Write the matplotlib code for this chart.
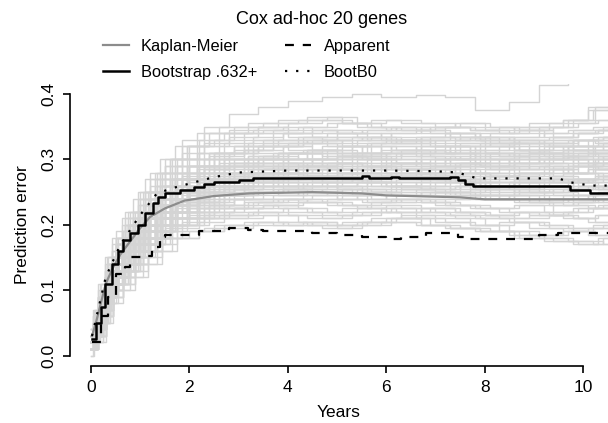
import matplotlib.pyplot as plt
from matplotlib.lines import Line2D

plt.rcParams['font.family'] = ['Liberation Sans', 'DejaVu Sans']

# ---------------- data ----------------
title = 'Cox ad-hoc 20 genes'
xticks = [0, 2, 4, 6, 8, 10]
yticks = [0.0, 0.1, 0.2, 0.3, 0.4]

# step times for the bootstrap curves (light gray), five groups
TA = [0, 0.08, 0.2, 0.32, 0.5, 0.7, 0.95, 1.2, 1.5, 1.85, 2.3, 2.8, 3.4, 4.0, 4.7, 5.3, 5.9, 6.6, 7.2, 7.8, 8.5, 9.1, 9.7, 10.2, 10.5]
TB = [0, 0.12, 0.25, 0.38, 0.55, 0.8, 1.05, 1.35, 1.65, 2.0, 2.5, 3.1, 3.7, 4.3, 5.0, 5.6, 6.2, 6.9, 7.5, 8.1, 8.7, 9.4, 9.9, 10.3, 10.5]
TC = [0, 0.05, 0.15, 0.28, 0.42, 0.62, 0.85, 1.1, 1.4, 1.7, 2.15, 2.6, 3.2, 3.8, 4.4, 5.1, 5.7, 6.3, 7.0, 7.7, 8.3, 8.9, 9.6, 10.1, 10.5]
TD = [0, 0.15, 0.3, 0.45, 0.65, 0.9, 1.15, 1.45, 1.75, 2.2, 2.7, 3.3, 3.9, 4.5, 5.0, 5.5, 6.1, 6.7, 7.3, 7.9, 8.6, 9.2, 9.8, 10.4, 10.5]
TE = [0, 0.06, 0.18, 0.35, 0.5, 0.75, 1.0, 1.3, 1.6, 1.95, 2.4, 2.9, 3.5, 4.2, 4.8, 5.4, 6.0, 6.7, 7.4, 8.0, 8.6, 9.3, 9.8, 10.25, 10.5]

# the single high outlier curve
boot_top = [0.03,0.06,0.10,0.14,0.17,0.20,0.23,0.26,0.29,0.32,0.35,0.37,0.38,0.39,0.395,0.40,0.395,0.398,0.395,0.375,0.388,0.414,0.43,0.43,0.43]

boot_A = [
    [0.02,0.05,0.09,0.13,0.16,0.19,0.22,0.25,0.28,0.30,0.32,0.34,0.35,0.355,0.36,0.355,0.35,0.345,0.35,0.345,0.34,0.35,0.36,0.375,0.375],
    [0.03,0.05,0.08,0.12,0.15,0.18,0.21,0.24,0.26,0.28,0.30,0.31,0.32,0.325,0.33,0.32,0.325,0.33,0.32,0.315,0.32,0.31,0.32,0.33,0.33],
    [0.02,0.04,0.08,0.12,0.14,0.17,0.20,0.22,0.25,0.27,0.29,0.30,0.305,0.31,0.30,0.305,0.31,0.305,0.30,0.295,0.30,0.31,0.30,0.295,0.295],
    [0.01,0.04,0.07,0.11,0.14,0.16,0.19,0.21,0.24,0.26,0.27,0.28,0.29,0.295,0.29,0.285,0.29,0.295,0.29,0.28,0.285,0.29,0.28,0.29,0.29],
    [0.03,0.05,0.08,0.11,0.13,0.16,0.18,0.20,0.22,0.24,0.26,0.27,0.275,0.28,0.275,0.28,0.285,0.28,0.275,0.27,0.275,0.27,0.265,0.27,0.27],
    [0.02,0.04,0.07,0.10,0.13,0.15,0.17,0.20,0.22,0.23,0.25,0.26,0.265,0.26,0.265,0.27,0.265,0.26,0.265,0.255,0.26,0.25,0.255,0.26,0.26],
    [0.02,0.04,0.06,0.10,0.12,0.14,0.17,0.19,0.21,0.22,0.235,0.245,0.25,0.255,0.25,0.245,0.25,0.255,0.25,0.245,0.24,0.235,0.24,0.245,0.245],
    [0.01,0.03,0.06,0.09,0.12,0.14,0.16,0.18,0.20,0.21,0.225,0.23,0.235,0.24,0.235,0.23,0.235,0.24,0.23,0.225,0.22,0.215,0.22,0.225,0.225],
    [0.01,0.03,0.05,0.09,0.11,0.13,0.15,0.17,0.19,0.20,0.21,0.215,0.22,0.215,0.21,0.215,0.22,0.21,0.205,0.20,0.19,0.185,0.19,0.195,0.195],
    [0.02,0.04,0.07,0.11,0.13,0.16,0.19,0.21,0.23,0.25,0.265,0.275,0.28,0.29,0.295,0.30,0.295,0.29,0.30,0.31,0.305,0.30,0.31,0.315,0.315],
    [0.03,0.06,0.09,0.12,0.15,0.17,0.20,0.23,0.25,0.27,0.285,0.295,0.30,0.31,0.315,0.32,0.31,0.315,0.31,0.30,0.295,0.30,0.305,0.31,0.31],
]
boot_B = [
    [0.02,0.05,0.09,0.13,0.16,0.19,0.22,0.25,0.27,0.29,0.31,0.33,0.34,0.345,0.34,0.345,0.35,0.34,0.335,0.34,0.345,0.335,0.34,0.345,0.345],
    [0.03,0.05,0.09,0.12,0.15,0.18,0.21,0.23,0.25,0.27,0.29,0.30,0.31,0.315,0.31,0.32,0.315,0.31,0.32,0.325,0.315,0.32,0.33,0.335,0.335],
    [0.02,0.04,0.08,0.11,0.14,0.17,0.19,0.22,0.24,0.26,0.275,0.285,0.29,0.30,0.305,0.30,0.295,0.30,0.305,0.30,0.31,0.305,0.30,0.305,0.305],
    [0.01,0.04,0.07,0.11,0.13,0.16,0.18,0.21,0.23,0.25,0.265,0.275,0.28,0.285,0.28,0.275,0.28,0.285,0.28,0.275,0.28,0.285,0.28,0.275,0.275],
    [0.02,0.04,0.07,0.10,0.13,0.15,0.18,0.20,0.22,0.24,0.255,0.26,0.27,0.275,0.27,0.265,0.27,0.275,0.265,0.26,0.265,0.27,0.26,0.255,0.255],
    [0.02,0.03,0.06,0.10,0.12,0.14,0.16,0.19,0.21,0.225,0.24,0.25,0.255,0.26,0.255,0.25,0.255,0.26,0.25,0.245,0.25,0.245,0.24,0.235,0.235],
    [0.01,0.03,0.06,0.09,0.11,0.14,0.16,0.18,0.20,0.215,0.225,0.235,0.24,0.245,0.24,0.235,0.24,0.235,0.23,0.225,0.23,0.22,0.225,0.23,0.23],
    [0.01,0.02,0.05,0.08,0.10,0.12,0.14,0.16,0.18,0.19,0.20,0.205,0.20,0.205,0.20,0.205,0.21,0.20,0.195,0.19,0.18,0.175,0.17,0.18,0.18],
    [0.03,0.06,0.10,0.13,0.16,0.19,0.22,0.24,0.26,0.28,0.30,0.315,0.32,0.33,0.335,0.33,0.325,0.33,0.335,0.33,0.325,0.33,0.32,0.325,0.325],
    [0.02,0.05,0.08,0.12,0.15,0.17,0.20,0.22,0.24,0.26,0.27,0.28,0.29,0.29,0.295,0.29,0.285,0.29,0.295,0.29,0.285,0.29,0.295,0.30,0.30],
    [0.02,0.04,0.07,0.11,0.14,0.16,0.19,0.21,0.23,0.245,0.26,0.27,0.275,0.27,0.275,0.28,0.275,0.27,0.275,0.265,0.27,0.265,0.27,0.275,0.275],
    [0.02,0.04,0.07,0.10,0.12,0.15,0.17,0.19,0.21,0.23,0.245,0.25,0.26,0.265,0.26,0.255,0.26,0.265,0.255,0.25,0.255,0.25,0.245,0.25,0.25],
]
boot_C = [
    [0.04,0.07,0.11,0.15,0.18,0.21,0.24,0.27,0.30,0.32,0.34,0.35,0.355,0.36,0.365,0.355,0.36,0.355,0.35,0.345,0.35,0.355,0.36,0.38,0.38],
    [0.03,0.06,0.10,0.14,0.17,0.20,0.22,0.25,0.27,0.29,0.31,0.32,0.325,0.33,0.325,0.33,0.335,0.325,0.33,0.335,0.325,0.32,0.315,0.32,0.32],
    [0.02,0.05,0.09,0.12,0.15,0.18,0.20,0.23,0.25,0.27,0.28,0.29,0.30,0.31,0.315,0.31,0.305,0.31,0.315,0.31,0.305,0.31,0.315,0.31,0.31],
    [0.02,0.04,0.08,0.11,0.14,0.16,0.19,0.21,0.23,0.25,0.265,0.27,0.28,0.285,0.29,0.295,0.29,0.285,0.29,0.295,0.29,0.295,0.30,0.29,0.29],
    [0.02,0.04,0.07,0.11,0.13,0.16,0.18,0.20,0.22,0.24,0.25,0.26,0.265,0.27,0.275,0.27,0.275,0.28,0.27,0.265,0.27,0.275,0.28,0.285,0.285],
    [0.01,0.03,0.06,0.10,0.12,0.15,0.17,0.19,0.21,0.225,0.235,0.245,0.25,0.245,0.25,0.255,0.25,0.245,0.25,0.255,0.245,0.24,0.245,0.24,0.24],
    [0.01,0.03,0.06,0.09,0.12,0.14,0.16,0.18,0.20,0.21,0.22,0.225,0.23,0.225,0.22,0.225,0.23,0.225,0.22,0.215,0.21,0.215,0.21,0.205,0.205],
    [0.00,0.02,0.05,0.08,0.11,0.13,0.15,0.17,0.19,0.20,0.21,0.21,0.215,0.205,0.20,0.205,0.21,0.215,0.21,0.20,0.205,0.195,0.19,0.185,0.185],
    [0.03,0.05,0.09,0.13,0.16,0.18,0.21,0.24,0.26,0.28,0.29,0.30,0.305,0.30,0.31,0.305,0.30,0.31,0.32,0.31,0.315,0.31,0.305,0.31,0.31],
    [0.02,0.05,0.08,0.12,0.14,0.17,0.19,0.22,0.24,0.255,0.27,0.28,0.285,0.28,0.285,0.29,0.28,0.285,0.28,0.285,0.29,0.285,0.28,0.285,0.285],
    [0.02,0.04,0.07,0.10,0.13,0.15,0.18,0.20,0.22,0.235,0.25,0.255,0.26,0.265,0.26,0.265,0.26,0.255,0.26,0.265,0.26,0.265,0.27,0.265,0.265],
    [0.01,0.03,0.06,0.09,0.12,0.14,0.17,0.19,0.21,0.22,0.23,0.24,0.24,0.235,0.24,0.245,0.24,0.235,0.24,0.245,0.24,0.235,0.23,0.225,0.225],
]
boot_D = [
    [0.03,0.07,0.11,0.15,0.19,0.22,0.25,0.28,0.30,0.33,0.34,0.345,0.35,0.34,0.345,0.34,0.33,0.335,0.34,0.33,0.335,0.34,0.345,0.35,0.35],
    [0.02,0.06,0.10,0.13,0.17,0.20,0.22,0.25,0.27,0.29,0.30,0.31,0.32,0.315,0.32,0.31,0.315,0.32,0.31,0.305,0.31,0.315,0.32,0.315,0.315],
    [0.02,0.05,0.09,0.12,0.16,0.19,0.21,0.24,0.26,0.28,0.29,0.295,0.30,0.295,0.30,0.305,0.30,0.295,0.30,0.29,0.295,0.30,0.305,0.30,0.30],
    [0.02,0.05,0.08,0.12,0.15,0.18,0.20,0.22,0.24,0.26,0.27,0.28,0.285,0.28,0.285,0.28,0.275,0.28,0.285,0.28,0.275,0.28,0.29,0.295,0.295],
    [0.01,0.04,0.08,0.11,0.14,0.17,0.19,0.21,0.23,0.245,0.255,0.265,0.27,0.265,0.27,0.265,0.26,0.265,0.27,0.26,0.265,0.26,0.265,0.27,0.27],
    [0.01,0.04,0.07,0.10,0.13,0.16,0.18,0.20,0.22,0.235,0.245,0.25,0.255,0.25,0.255,0.25,0.245,0.25,0.245,0.24,0.245,0.24,0.235,0.24,0.24],
    [0.01,0.03,0.06,0.09,0.12,0.14,0.16,0.18,0.195,0.205,0.215,0.22,0.225,0.22,0.215,0.22,0.225,0.22,0.215,0.21,0.205,0.20,0.195,0.20,0.20],
    [0.03,0.06,0.10,0.14,0.18,0.21,0.24,0.27,0.29,0.31,0.325,0.335,0.34,0.335,0.33,0.335,0.34,0.345,0.34,0.335,0.33,0.325,0.33,0.335,0.335],
    [0.02,0.05,0.09,0.13,0.16,0.19,0.22,0.24,0.26,0.275,0.285,0.29,0.295,0.30,0.295,0.29,0.295,0.30,0.295,0.29,0.30,0.295,0.29,0.295,0.295],
    [0.02,0.05,0.08,0.11,0.14,0.17,0.19,0.21,0.23,0.25,0.26,0.27,0.275,0.27,0.265,0.27,0.275,0.27,0.265,0.26,0.255,0.26,0.255,0.26,0.26],
    [0.02,0.05,0.09,0.12,0.15,0.18,0.21,0.23,0.25,0.27,0.28,0.29,0.30,0.31,0.305,0.31,0.32,0.315,0.31,0.32,0.325,0.32,0.315,0.32,0.32],
    [0.01,0.03,0.06,0.09,0.11,0.13,0.15,0.17,0.18,0.19,0.195,0.20,0.205,0.20,0.195,0.20,0.205,0.20,0.195,0.19,0.185,0.18,0.175,0.17,0.17],
]
boot_E = [
    [0.04,0.06,0.10,0.14,0.18,0.22,0.25,0.28,0.30,0.32,0.33,0.34,0.345,0.35,0.355,0.35,0.345,0.35,0.355,0.35,0.345,0.35,0.355,0.36,0.36],
    [0.03,0.05,0.09,0.13,0.16,0.20,0.22,0.25,0.27,0.29,0.305,0.315,0.32,0.325,0.32,0.325,0.33,0.32,0.325,0.32,0.315,0.325,0.33,0.325,0.325],
    [0.02,0.04,0.08,0.12,0.15,0.18,0.21,0.23,0.25,0.27,0.285,0.295,0.30,0.30,0.305,0.30,0.31,0.305,0.30,0.31,0.305,0.30,0.295,0.30,0.30],
    [0.02,0.04,0.08,0.11,0.14,0.17,0.20,0.22,0.24,0.255,0.27,0.28,0.285,0.29,0.285,0.29,0.285,0.28,0.29,0.285,0.28,0.285,0.29,0.285,0.285],
    [0.02,0.04,0.07,0.11,0.13,0.16,0.19,0.21,0.23,0.245,0.26,0.265,0.27,0.275,0.28,0.275,0.27,0.275,0.28,0.275,0.27,0.265,0.27,0.275,0.275],
    [0.01,0.03,0.07,0.10,0.12,0.15,0.18,0.20,0.22,0.235,0.245,0.255,0.26,0.255,0.26,0.265,0.26,0.255,0.26,0.255,0.25,0.255,0.26,0.255,0.255],
    [0.01,0.03,0.06,0.10,0.12,0.14,0.17,0.19,0.21,0.22,0.23,0.24,0.245,0.25,0.245,0.24,0.245,0.25,0.245,0.24,0.235,0.23,0.235,0.24,0.24],
    [0.01,0.02,0.05,0.09,0.11,0.13,0.16,0.18,0.20,0.21,0.22,0.225,0.23,0.235,0.23,0.225,0.22,0.225,0.22,0.215,0.22,0.215,0.21,0.215,0.215],
    [0.03,0.05,0.09,0.13,0.17,0.20,0.23,0.26,0.28,0.30,0.31,0.32,0.33,0.335,0.34,0.335,0.33,0.335,0.33,0.325,0.33,0.335,0.34,0.345,0.345],
    [0.02,0.04,0.08,0.12,0.15,0.18,0.21,0.23,0.25,0.265,0.28,0.29,0.295,0.29,0.295,0.30,0.295,0.29,0.295,0.30,0.295,0.305,0.31,0.305,0.305],
    [0.02,0.04,0.07,0.11,0.14,0.17,0.19,0.22,0.24,0.255,0.265,0.275,0.28,0.275,0.28,0.285,0.28,0.275,0.27,0.275,0.28,0.275,0.27,0.28,0.28],
    [0.02,0.04,0.07,0.10,0.13,0.16,0.18,0.20,0.22,0.24,0.25,0.26,0.265,0.26,0.265,0.26,0.265,0.27,0.265,0.26,0.265,0.27,0.265,0.26,0.26],
]

km_t = [0.02, 0.1, 0.2, 0.3, 0.45, 0.6, 0.8, 1.0, 1.2, 1.5, 1.9, 2.5, 3.2, 4.5, 5.5, 6.0, 7.0, 7.5, 8.0, 10.5]
km_v = [0.03, 0.05, 0.08, 0.11, 0.135, 0.155, 0.175, 0.195, 0.212, 0.225, 0.237, 0.244, 0.248, 0.25, 0.248, 0.245, 0.243, 0.242, 0.239, 0.239]

b632_t = [0.02, 0.1, 0.2, 0.28, 0.43, 0.55, 0.66, 0.8, 0.96, 1.1, 1.26, 1.36, 1.5, 1.8, 2.1, 2.3, 2.5, 3.0, 3.3,
          5.5, 5.65, 6.1, 6.25, 7.3, 7.45, 7.6, 7.77, 9.74, 10.15, 10.5]
b632_v = [0.026, 0.05, 0.074, 0.11, 0.14, 0.16, 0.176, 0.188, 0.20, 0.218, 0.233, 0.242, 0.248, 0.253, 0.258, 0.263, 0.266, 0.268, 0.271,
          0.274, 0.271, 0.273, 0.271, 0.273, 0.268, 0.263, 0.259, 0.253, 0.249, 0.249]

app_t = [0.02, 0.2, 0.35, 0.5, 0.7, 0.8, 1.06, 1.24, 1.4, 1.5, 2.2, 2.8, 3.2, 3.5, 4.0, 4.5, 5.0, 5.5, 6.0, 6.3,
         6.8, 7.1, 7.45, 7.6, 9.0, 9.1, 9.5, 10.5]
app_v = [0.02, 0.06, 0.09, 0.125, 0.135, 0.15, 0.153, 0.166, 0.181, 0.184, 0.19, 0.195, 0.192, 0.19, 0.191, 0.187, 0.184, 0.181, 0.179, 0.182,
         0.187, 0.187, 0.182, 0.178, 0.178, 0.184, 0.187, 0.187]

b0_t = [0.02, 0.3, 0.6, 1.0, 1.34, 1.7, 2.0, 2.5, 3.0, 4.0, 5.0, 6.0, 7.0, 7.45, 7.85, 9.5, 9.74, 10.15, 10.5]
b0_v = [0.03, 0.12, 0.17, 0.215, 0.248, 0.257, 0.263, 0.273, 0.28, 0.283, 0.283, 0.283, 0.282, 0.28, 0.271, 0.271, 0.265, 0.26, 0.26]

# ---------------- figure ----------------
fig = plt.figure(figsize=(6.08, 4.23), dpi=100)
ax = fig.add_axes([70/608, 1 - 366/423, 538/608, (366 - 83.6)/423])

# each set of levels is drawn on two of the step-time grids to thicken the band
groups = [(TA, boot_A), (TB, boot_B), (TC, boot_C), (TD, boot_D), (TE, boot_E),
          (TC, boot_A), (TD, boot_B), (TE, boot_C), (TA, boot_D), (TB, boot_E)]
for times, group in groups:
    for vals in group:
        ax.plot(times, vals, color='#d4d4d4', lw=1.0, drawstyle='steps-post', zorder=1)
ax.plot(TA, boot_top, color='#d4d4d4', lw=1.0, drawstyle='steps-post', zorder=1)

ax.plot(km_t, km_v, color='#8c8c8c', lw=1.6, zorder=3)
ax.plot(app_t, app_v, color='black', lw=1.6, ls=(0, (4, 4)), drawstyle='steps-post', zorder=3)
ax.plot(b632_t, b632_v, color='black', lw=1.8, drawstyle='steps-post', zorder=4)
ax.plot(b0_t, b0_v, color='black', lw=1.6, ls=(0, (1, 4)), zorder=3)

ax.set_xlim(-0.427, 10.508)
ax.set_ylim(-0.016, 0.416)

for s in ['top', 'right']:
    ax.spines[s].set_visible(False)
ax.spines['left'].set_bounds(0, 0.4)
ax.spines['bottom'].set_bounds(0, 10)
ax.spines['left'].set_linewidth(1.2)
ax.spines['bottom'].set_linewidth(1.2)

ax.set_xticks(xticks)
ax.set_yticks(yticks)
ax.set_xticklabels([str(v) for v in xticks])
ax.set_yticklabels(['%.1f' % v for v in yticks], rotation=90, va='center')
ax.tick_params(direction='out', length=5, width=1.2, labelsize=12.5, pad=5)

ax.set_xlabel('Years', fontsize=12.5)
ax.set_ylabel('Prediction error', fontsize=12.5)
ax.yaxis.set_label_coords((23 - 70) / 538, 0.5)
ax.xaxis.set_label_coords(0.5, -(412 - 366) / 282.4)
ax.xaxis.label.set_va('center')
ax.yaxis.label.set_va('center')

fig.text(322/608, 1 - 20/423, title, ha='center', va='center', fontsize=13)

handles = [
    Line2D([], [], color='#8c8c8c', lw=1.6),
    Line2D([], [], color='black', lw=1.8),
    Line2D([], [], color='black', lw=1.6, ls=(0, (4, 4))),
    Line2D([], [], color='black', lw=1.6, ls=(0, (1, 4))),
]
labels = ['Kaplan-Meier', 'Bootstrap .632+', 'Apparent', 'BootB0']
fig.legend(handles, labels, ncol=2, frameon=False, fontsize=11.8,
           loc='upper left', bbox_to_anchor=(96/608, 1 - 32/423),
           handlelength=1.6, handletextpad=0.75, columnspacing=1.7,
           labelspacing=0.67, borderaxespad=0)

fig.savefig('out.png', dpi=100)
